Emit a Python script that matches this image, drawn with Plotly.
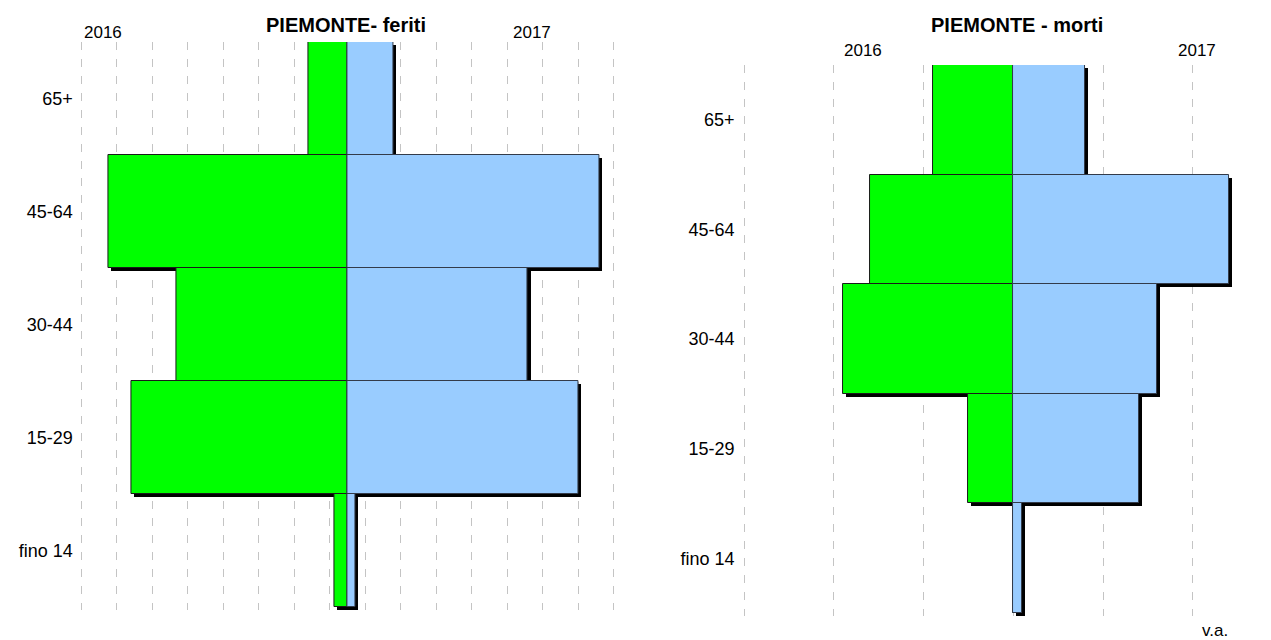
import plotly.graph_objects as go

# fasce d'età (dall'alto verso il basso)
categories = ["65+", "45-64", "30-44", "15-29", "fino 14"]

# feriti (v.a.)
feriti_2016 = [110, 673, 481, 608, 37]
feriti_2017 = [130, 711, 509, 651, 22]

# morti (v.a.)
morti_2016 = [9, 16, 19, 5, 0]
morti_2017 = [8, 24, 16, 14, 1]

GREEN = "#00ff00"
BLUE = "#99ccff"
FONT = "Liberation Sans, Arial, sans-serif"

# la pagina html ha un margine di 8px: la figura parte da (8, 8)
W, H, OFF = 1263, 632, 8


def px(x):
    return (x - OFF) / W


def py(y):
    return 1 - (y - OFF) / H


def pyramid(fig, left, right, xa, ya, dx, dy):
    # ombre nere sfalsate (in basso a destra)
    for vals, sign in ((left, -1), (right, 1)):
        fig.add_trace(go.Bar(
            y=categories, x=[sign * v for v in vals], base=dx,
            orientation="h", width=1, offset=-0.5 + dy,
            marker=dict(color="black", line=dict(width=0)),
            xaxis=xa, yaxis=ya, showlegend=False, hoverinfo="skip",
        ))
    fig.add_trace(go.Bar(
        y=categories, x=[-v for v in left], base=0,
        orientation="h", width=1, offset=-0.5,
        marker=dict(color=GREEN, line=dict(color="#1a1a1a", width=1)),
        xaxis=xa, yaxis=ya, showlegend=False,
        customdata=left, hovertemplate="%{y}: %{customdata}<extra>2016</extra>",
    ))
    fig.add_trace(go.Bar(
        y=categories, x=right, base=0,
        orientation="h", width=1, offset=-0.5,
        marker=dict(color=BLUE, line=dict(color="#333b4a", width=1)),
        xaxis=xa, yaxis=ya, showlegend=False,
        hovertemplate="%{y}: %{x}<extra>2017</extra>",
    ))


fig = go.Figure()
pyramid(fig, feriti_2016, feriti_2017, "x", "y", 8.5, 0.027)
pyramid(fig, morti_2016, morti_2017, "x2", "y2", 0.335, 0.028)

xgrid = dict(
    showgrid=True, gridcolor="#c4c4c4", gridwidth=1, griddash="8px,9px",
    zeroline=False, showticklabels=False, showline=False, ticks="",
    automargin=False, fixedrange=True,
)
ycat = dict(
    type="category", categoryorder="array", categoryarray=categories,
    showgrid=False, zeroline=False, showline=False,
    ticks="outside", ticklen=5, tickcolor="rgba(0,0,0,0)",
    tickfont=dict(family=FONT, size=18, color="black"),
    automargin=False, fixedrange=True,
)

# scala: feriti 0.355 px/unità, morti 8.96 px/unità
fig.update_layout(
    width=W, height=H,
    margin=dict(l=0, r=0, t=0, b=0),
    paper_bgcolor="white", plot_bgcolor="white",
    barmode="overlay", bargap=0,
    font=dict(family=FONT, size=18, color="black"),
    xaxis=dict(xgrid, domain=[px(81 - 3.55), px(613.5 + 3.55)], range=[-760, 760],
               tick0=50, dtick=100, anchor="y"),
    yaxis=dict(ycat, domain=[py(610.4), py(42)], range=[4.53, -0.5],
               ticklabelstandoff=-5, anchor="x"),
    xaxis2=dict(xgrid, domain=[px(744 - 8.96), 1.0], range=[-31, 28.7],
                tick0=0, dtick=10, anchor="y2"),
    yaxis2=dict(ycat, domain=[py(616.3), py(65)], range=[4.53, -0.5],
                ticklabelstandoff=-9, anchor="x2"),
)

labels = [
    ("<b>PIEMONTE- feriti</b>", 346, 25, 20),
    ("2016", 103, 33, 17),
    ("2017", 532, 33, 17),
    ("<b>PIEMONTE - morti</b>", 1017, 25, 20),
    ("2016", 863, 50, 17),
    ("2017", 1197, 50, 17),
    ("v.a.", 1215, 630, 17),
]
for text, x, y, size in labels:
    fig.add_annotation(
        text=text, xref="paper", yref="paper",
        x=px(x), y=py(y), xanchor="center", yanchor="middle",
        showarrow=False, font=dict(family=FONT, size=size, color="black"),
    )

fig.write_html("out.html")
